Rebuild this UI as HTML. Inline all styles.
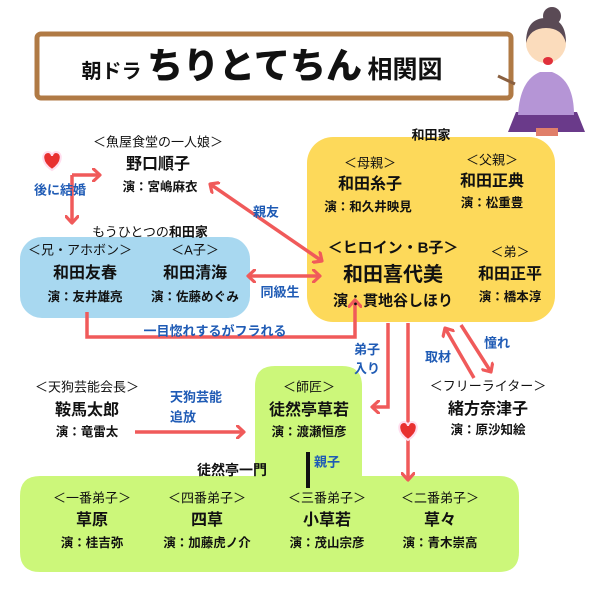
<!DOCTYPE html>
<html><head><meta charset="utf-8"><style>
body{margin:0;width:600px;height:600px;background:#fff;position:relative;overflow:hidden;font-family:"Liberation Sans","Noto Sans CJK JP",sans-serif;font-weight:bold;color:#111}
.t{position:absolute;transform:translate(-50%,-50%);white-space:nowrap;line-height:1}
.r{font-size:13px;font-weight:normal}
.n{font-size:16px}
.a{font-size:12.5px}
.b{color:#1f5bb5;font-size:13px}
</style></head><body>
<svg width="600" height="600" style="position:absolute;left:0;top:0">
<defs><marker id="m" markerWidth="14" markerHeight="14" refX="8" refY="7" orient="auto-start-reverse" markerUnits="userSpaceOnUse"><path d="M1.5,1 L8,7 L1.5,13" fill="none" stroke="#f05a5a" stroke-width="3.2" stroke-linecap="round" stroke-linejoin="round"/></marker></defs>
<rect x="37" y="34" width="474" height="64" rx="4" fill="#fff" stroke="#b07a45" stroke-width="5"/>
<rect x="307" y="137" width="248" height="185" rx="26" fill="#fdd95a"/>
<rect x="20" y="237" width="230" height="81" rx="22" fill="#a8d8f0"/>
<path d="M275,366 H342 Q362,366 362,386 V476 H499 Q519,476 519,496 V552 Q519,572 499,572 H40 Q20,572 20,552 V496 Q20,476 40,476 H255 V386 Q255,366 275,366 Z" fill="#ccf77a"/>
<g fill="none" stroke="#f05a5a" stroke-width="3.5">
<path d="M72,175 H100" marker-end="url(#m)"/>
<path d="M72,175 V223" marker-end="url(#m)"/>
<path d="M210,184 L322,261" marker-end="url(#m)" marker-start="url(#m)"/>
<path d="M248,276 H320" marker-end="url(#m)" marker-start="url(#m)"/>
<path d="M87,312 V337 H355 V300" marker-end="url(#m)"/>
<path d="M388,323 V407 H372" marker-end="url(#m)"/>
<path d="M408,323 V480" marker-end="url(#m)"/>
<path d="M474,378 L445,328" marker-end="url(#m)"/>
<path d="M461,325 L491,372" marker-end="url(#m)"/>
<path d="M135,432 H244" marker-end="url(#m)"/>
</g>
<path d="M52,170 C40,162 42,152 48,152 C51,152 52,155 52,156 C52,155 53,152 56,152 C62,152 64,162 52,170Z" fill="#e83030" stroke="#fde" stroke-width="2"/>
<path d="M408,440 C396,432 398,422 404,422 C407,422 408,425 408,426 C408,425 409,422 412,422 C418,422 420,432 408,440Z" fill="#e83030" stroke="#fde" stroke-width="2"/>
<rect x="306" y="452" width="4" height="36" fill="#111"/>
<!-- woman -->
<polygon points="508,132 585,132 577,112 516,112" fill="#6a3a8a"/>
<rect x="536" y="128" width="22" height="8" fill="#e07f6a"/>
<path d="M518,115 Q520,80 540,72 L552,72 Q574,80 574,115 Z" fill="#b595d6"/>
<circle cx="546" cy="43" r="20" fill="#fbdcbc"/>
<path d="M526,43 Q526,18 546,18 Q566,18 566,43 Q562,28 546,28 Q530,28 526,43Z" fill="#5a4a55"/>
<circle cx="552" cy="16" r="9" fill="#5a4a55"/>
<ellipse cx="548" cy="61" rx="5" ry="4" fill="#e0303a"/>
<line x1="498" y1="76" x2="515" y2="84" stroke="#8a6040" stroke-width="3"/>
</svg>
<div class="t" style="left:262px;top:66px;font-size:20px">朝ドラ <span style="font-size:36px;font-weight:900">ちりとてちん</span> <span style="font-size:25px">相関図</span></div>

<div class="t r" style="left:158px;top:142px">＜魚屋食堂の一人娘＞</div>
<div class="t n" style="left:158px;top:165px">野口順子</div>
<div class="t a" style="left:160px;top:187px">演：宮嶋麻衣</div>
<div class="t b" style="left:60px;top:190px">後に結婚</div>
<div class="t b" style="left:266px;top:212px">親友</div>
<div class="t r" style="left:150px;top:232px">もうひとつの<b>和田家</b></div>
<div class="t r" style="left:80px;top:250px">＜兄・アホボン＞</div>
<div class="t n" style="left:85px;top:274px">和田友春</div>
<div class="t a" style="left:85px;top:297px">演：友井雄亮</div>
<div class="t r" style="left:195px;top:250px">＜A子＞</div>
<div class="t n" style="left:195px;top:274px">和田清海</div>
<div class="t a" style="left:195px;top:297px">演：佐藤めぐみ</div>
<div class="t b" style="left:280px;top:292px">同級生</div>
<div class="t b" style="left:215px;top:331px">一目惚れするがフラれる</div>

<div class="t" style="left:431px;top:135px;font-size:13px">和田家</div>
<div class="t r" style="left:370px;top:163px">＜母親＞</div>
<div class="t n" style="left:370px;top:185px">和田糸子</div>
<div class="t a" style="left:368px;top:207px">演：和久井映見</div>
<div class="t r" style="left:492px;top:160px">＜父親＞</div>
<div class="t n" style="left:492px;top:182px">和田正典</div>
<div class="t a" style="left:492px;top:203px">演：松重豊</div>
<div class="t" style="left:393px;top:248px;font-size:15px">＜ヒロイン・B子＞</div>
<div class="t" style="left:393px;top:275px;font-size:20px">和田喜代美</div>
<div class="t" style="left:393px;top:301px;font-size:15px">演：貫地谷しほり</div>
<div class="t r" style="left:510px;top:252px">＜弟＞</div>
<div class="t n" style="left:510px;top:275px">和田正平</div>
<div class="t a" style="left:510px;top:297px">演：橋本淳</div>

<div class="t b" style="left:367px;top:360px;line-height:1.45">弟子<br>入り</div>
<div class="t b" style="left:438px;top:357px">取材</div>
<div class="t b" style="left:497px;top:343px">憧れ</div>
<div class="t r" style="left:488px;top:386px">＜フリーライター＞</div>
<div class="t n" style="left:488px;top:410px">緒方奈津子</div>
<div class="t a" style="left:488px;top:430px">演：原沙知絵</div>

<div class="t r" style="left:87px;top:387px">＜天狗芸能会長＞</div>
<div class="t n" style="left:87px;top:411px">鞍馬太郎</div>
<div class="t a" style="left:87px;top:432px">演：竜雷太</div>
<div class="t b" style="left:196px;top:407px;line-height:1.5">天狗芸能<br>追放</div>
<div class="t r" style="left:309px;top:387px">＜師匠＞</div>
<div class="t n" style="left:309px;top:411px">徒然亭草若</div>
<div class="t a" style="left:309px;top:432px">演：渡瀬恒彦</div>
<div class="t b" style="left:327px;top:462px">親子</div>
<div class="t" style="left:232px;top:470px;font-size:14px">徒然亭一門</div>

<div class="t r" style="left:92px;top:498px">＜一番弟子＞</div>
<div class="t n" style="left:92px;top:521px">草原</div>
<div class="t a" style="left:92px;top:543px">演：桂吉弥</div>
<div class="t r" style="left:207px;top:498px">＜四番弟子＞</div>
<div class="t n" style="left:207px;top:521px">四草</div>
<div class="t a" style="left:207px;top:543px">演：加藤虎ノ介</div>
<div class="t r" style="left:327px;top:498px">＜三番弟子＞</div>
<div class="t n" style="left:327px;top:521px">小草若</div>
<div class="t a" style="left:327px;top:543px">演：茂山宗彦</div>
<div class="t r" style="left:440px;top:498px">＜二番弟子＞</div>
<div class="t n" style="left:440px;top:521px">草々</div>
<div class="t a" style="left:440px;top:543px">演：青木崇高</div>
</body></html>
